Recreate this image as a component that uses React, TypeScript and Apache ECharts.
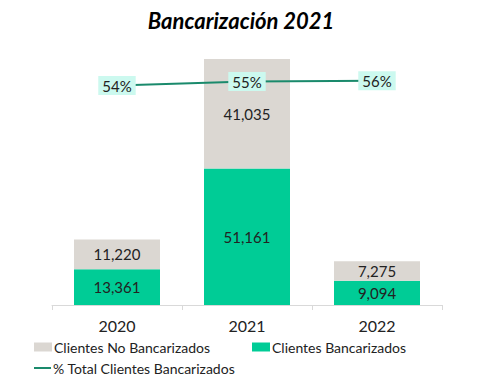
import React, { useEffect, useRef } from "react";
import * as echarts from "echarts";

const years = ["2020", "2021", "2022"];
const noBancarizados = [11220, 41035, 7275];
const bancarizados = [13361, 51161, 9094];
const pctTotal = [54.4, 55.4, 55.6];

const FONT = "Lato, 'Open Sans', sans-serif";

export default function App() {
  const ref = useRef<HTMLDivElement>(null);
  useEffect(() => {
    if (!ref.current) return;
    const chart = echarts.init(ref.current, undefined, { renderer: "svg" });
    const totals = years.map((_, i) => noBancarizados[i] + bancarizados[i]);
    const maxTotal = Math.max(...totals);
    const legendText = { fontFamily: FONT, fontSize: 14, color: "#222", padding: [0, 0, 0, -3] };
    chart.setOption({
      animation: false,
      textStyle: { fontFamily: FONT },
      title: {
        text: "Bancarización 2021",
        left: 236,
        textAlign: "center",
        top: 4,
        textStyle: {
          fontFamily: FONT,
          fontSize: 22,
          fontWeight: "bold",
          fontStyle: "italic",
          color: "#000",
        },
      },
      grid: { left: 52, right: 52, top: 59, bottom: 76 },
      legend: [
        {
          left: 29,
          top: 335,
          itemWidth: 18,
          itemHeight: 9,
          icon: "rect",
          data: ["Clientes No Bancarizados"],
          textStyle: legendText,
        },
        {
          left: 247,
          top: 335,
          itemWidth: 18,
          itemHeight: 9,
          icon: "rect",
          data: ["Clientes Bancarizados"],
          textStyle: legendText,
        },
        {
          left: 29,
          top: 356,
          itemWidth: 17,
          itemHeight: 2,
          icon: "rect",
          data: ["% Total Clientes Bancarizados"],
          textStyle: legendText,
        },
      ],
      xAxis: {
        type: "category",
        data: years,
        axisLine: { lineStyle: { color: "#d9d9d9", width: 1 } },
        axisTick: { show: true, length: 5, lineStyle: { color: "#d9d9d9" } },
        axisLabel: { fontFamily: FONT, fontSize: 16, color: "#222", margin: 12 },
      },
      yAxis: [
        { type: "value", min: 0, max: maxTotal, show: false, splitLine: { show: false } },
        { type: "value", min: 0, max: 61, show: false, splitLine: { show: false } },
      ],
      series: [
        {
          name: "Clientes Bancarizados",
          type: "bar",
          stack: "total",
          data: bancarizados,
          barWidth: 86,
          itemStyle: { color: "#00cc96" },
          label: {
            show: true,
            position: "inside",
            fontFamily: FONT,
            fontSize: 15,
            color: "#222",
            formatter: (p: any) => Number(p.value).toLocaleString("en-US"),
          },
        },
        {
          name: "Clientes No Bancarizados",
          type: "bar",
          stack: "total",
          data: noBancarizados,
          barWidth: 86,
          itemStyle: { color: "#dbd7d2" },
          label: {
            show: true,
            position: "inside",
            fontFamily: FONT,
            fontSize: 15,
            color: "#222",
            formatter: (p: any) => Number(p.value).toLocaleString("en-US"),
          },
        },
        {
          name: "% Total Clientes Bancarizados",
          type: "line",
          yAxisIndex: 1,
          data: pctTotal,
          symbol: "circle",
          symbolSize: 1,
          z: 5,
          lineStyle: { color: "#1a8a6c", width: 2 },
          itemStyle: { color: "#1a8a6c" },
          label: {
            show: true,
            position: "inside",
            fontFamily: FONT,
            fontSize: 15,
            color: "#222",
            backgroundColor: "#ccf9ef",
            padding: [3, 4, 1, 4],
            formatter: (p: any) => Math.round(p.value) + "%",
          },
        },
      ],
    });
    return () => chart.dispose();
  }, []);
  return (
    <div
      ref={ref}
      style={{ position: "fixed", left: 0, top: 0, width: 494, height: 381, background: "#fff" }}
    />
  );
}
